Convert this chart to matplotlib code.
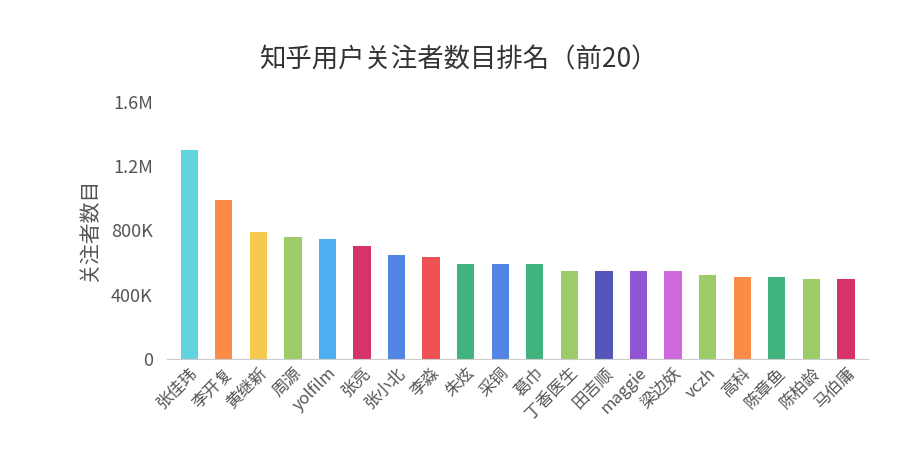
import matplotlib
matplotlib.use("Agg")
import matplotlib.pyplot as plt

names = ["张佳玮","李开复","黄继新","周源","yolfilm","张亮","张小北","李淼","朱炫","采铜",
         "葛巾","丁香医生","田吉顺","maggie","梁边妖","vczh","高科","陈章鱼","陈柏龄","马伯庸"]
followers = [1301000, 990000, 791000, 760000, 747000, 703000, 647000, 635000, 591000, 591000,
             591000, 548000, 548000, 548000, 548000, 523000, 510000, 510000, 498000, 498000]
colors = ["#62d3df","#fb8c48","#f5ca4d","#9ccc69","#4eaeef","#d5336a","#5184e3","#ef5154","#41b37e","#5184e3",
          "#41b37e","#9ccc69","#5356b8","#8f55d2","#d06adc","#9ccc69","#fb8c48","#41b37e","#9ccc69","#d5336a"]
yticks = [0, 400000, 800000, 1200000, 1600000]
ylabels = ["0", "400K", "800K", "1.2M", "1.6M"]

plt.rcParams["font.family"] = "sans-serif"
plt.rcParams["font.sans-serif"] = ["Noto Sans CJK SC", "Noto Sans CJK JP", "Noto Sans CJK TC",
                                   "Noto Sans CJK KR", "DejaVu Sans"]
fig = plt.figure(figsize=(9.16, 4.68), dpi=100)
ax = fig.add_axes([0.182, 0.233, 0.766, 0.55])
x = range(len(names))
ax.bar(x, followers, width=0.5, color=colors)
ax.set_xlim(-0.65, len(names) - 0.35)
ax.set_ylim(0, 1600000)
ax.set_yticks(yticks)
ax.set_yticklabels(ylabels, fontsize=13, color="#555555")
ax.set_xticks(list(x))
ax.set_xticklabels(names, rotation=45, ha="right", rotation_mode="anchor", fontsize=12, color="#555555")
for s in ["top", "right", "left"]:
    ax.spines[s].set_visible(False)
ax.spines["bottom"].set_color("#cccccc")
ax.tick_params(axis="y", length=0, pad=10)
ax.tick_params(axis="x", length=0, pad=4)
ax.set_ylabel("关注者数目", fontsize=15, color="#555555", labelpad=8)
fig.text(0.5, 0.855, "知乎用户关注者数目排名（前20）", ha="center", fontsize=19, color="#333333")
fig.savefig("out.png")
